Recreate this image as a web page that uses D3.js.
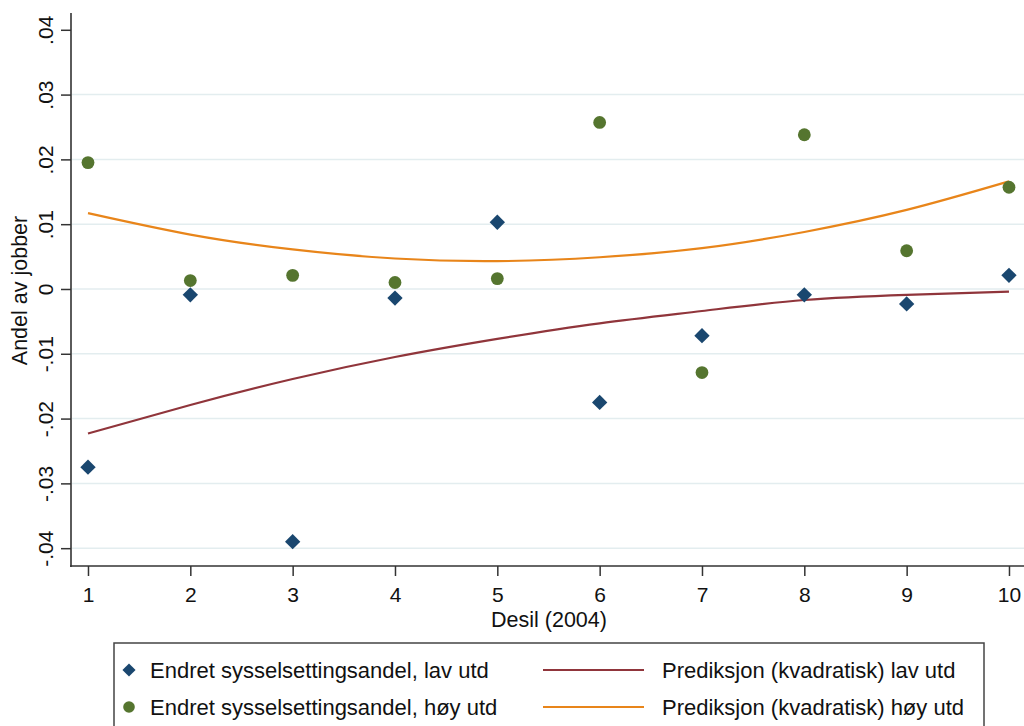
<!DOCTYPE html>
<html>
<head>
<meta charset="utf-8">
<script src="https://cdn.jsdelivr.net/npm/d3@7"></script>
<style>
  body { margin: 0; background: #fff; }
  svg { display: block; font-family: "Liberation Sans", Arial, sans-serif; }
</style>
</head>
<body>
<svg id="chart" width="1024" height="726"></svg>
<script>
// deciles on the x axis
const deciles = [1, 2, 3, 4, 5, 6, 7, 8, 9, 10];
// change in employment share, low education (diamonds)
const lavUtd = [-0.0275, -0.0009, -0.0390, -0.0014, 0.0103, -0.0175, -0.0072, -0.0009, -0.0023, 0.0021];
// change in employment share, high education (circles)
const hoyUtd = [0.0195, 0.0013, 0.0021, 0.0010, 0.0016, 0.0257, -0.0129, 0.0238, 0.0059, 0.0157];
// quadratic prediction curves at each decile
const predLav = [-0.0223, -0.0179, -0.0139, -0.0105, -0.0077, -0.0053, -0.0034, -0.0017, -0.0009, -0.0004];
const predHoy = [0.0117, 0.0084, 0.0061, 0.0047, 0.0043, 0.0049, 0.0063, 0.0088, 0.0122, 0.0166];
const yTicks = [-0.04, -0.03, -0.02, -0.01, 0, 0.01, 0.02, 0.03, 0.04];
const gridTicks = [-0.04, -0.03, -0.02, -0.01, 0, 0.01, 0.02, 0.03];
const legendItems = [
  {label: 'Endret sysselsettingsandel, lav utd', kind: 'diamond'},
  {label: 'Prediksjon (kvadratisk) lav utd', kind: 'lineLav'},
  {label: 'Endret sysselsettingsandel, høy utd', kind: 'circle'},
  {label: 'Prediksjon (kvadratisk) høy utd', kind: 'lineHoy'}
];

const colors = {
  lav: '#1a476f',
  hoy: '#55752f',
  lineLav: '#90353b',
  lineHoy: '#e8851a',
  grid: '#e3edef',
  axis: '#333'
};

const svg = d3.select('#chart');
const plotLeft = 71, plotRight = 1024, plotTop = 13, plotBottom = 566;

const x = d3.scaleLinear().domain([0.834, 10.137]).range([plotLeft, 1023]);
const y = d3.scaleLinear().domain([-0.04275, 0.04259]).range([plotBottom, plotTop]);

const fmt = d => {
  if (d === 0) return '0';
  let s = Math.abs(d).toFixed(2).replace(/^0/, '');
  return (d < 0 ? '-' : '') + s;
};

// gridlines
svg.append('g')
    .selectAll('line')
    .data(gridTicks)
    .join('line')
    .attr('x1', plotLeft + 1)
    .attr('x2', plotRight)
    .attr('y1', d => y(d))
    .attr('y2', d => y(d))
    .attr('stroke', colors.grid)
    .attr('stroke-width', 1.5);

// y axis
const yAxis = svg.append('g')
    .attr('transform', `translate(${plotLeft},0)`)
    .call(d3.axisLeft(y).tickValues(yTicks).tickSize(10).tickFormat(fmt));
yAxis.select('.domain').remove();
yAxis.append('line')
    .attr('y1', plotTop).attr('y2', plotBottom + 1)
    .attr('stroke', colors.axis).attr('stroke-width', 1.6);
yAxis.selectAll('.tick line').attr('stroke', colors.axis).attr('stroke-width', 1.5);
yAxis.selectAll('.tick text')
    .attr('x', null).attr('dy', null)
    .attr('transform', 'translate(-18,0) rotate(-90)')
    .attr('text-anchor', 'middle')
    .attr('fill', '#111')
    .style('font-size', '21px');

// x axis
const xAxis = svg.append('g')
    .attr('transform', `translate(0,${plotBottom})`)
    .call(d3.axisBottom(x).tickValues(deciles).tickSize(10).tickFormat(d3.format('d')));
xAxis.select('.domain').remove();
xAxis.append('line')
    .attr('x1', plotLeft - 1).attr('x2', plotRight)
    .attr('stroke', colors.axis).attr('stroke-width', 1.6);
xAxis.selectAll('.tick line').attr('stroke', colors.axis).attr('stroke-width', 1.5);
xAxis.selectAll('.tick text')
    .attr('y', 36).attr('dy', null)
    .attr('fill', '#111')
    .style('font-size', '21px');

// axis titles
svg.append('text')
    .attr('transform', `translate(27,${(plotTop + plotBottom) / 2 + 1}) rotate(-90)`)
    .attr('text-anchor', 'middle')
    .style('font-size', '21.5px')
    .attr('fill', '#111')
    .text('Andel av jobber');

svg.append('text')
    .attr('x', 549)
    .attr('y', 627)
    .attr('text-anchor', 'middle')
    .style('font-size', '21.5px')
    .attr('fill', '#111')
    .text('Desil (2004)');

// prediction lines
const line = d3.line()
    .x((d, i) => x(deciles[i]))
    .y(d => y(d))
    .curve(d3.curveNatural);

svg.append('path')
    .datum(predLav)
    .attr('d', line)
    .attr('fill', 'none')
    .attr('stroke', colors.lineLav)
    .attr('stroke-width', 2.2);

svg.append('path')
    .datum(predHoy)
    .attr('d', line)
    .attr('fill', 'none')
    .attr('stroke', colors.lineHoy)
    .attr('stroke-width', 2.2);

// markers
const diamond = d3.symbol().type(d3.symbolDiamond2).size(150);

svg.append('g')
    .selectAll('path')
    .data(lavUtd)
    .join('path')
    .attr('transform', (d, i) => `translate(${x(deciles[i])},${y(d)})`)
    .attr('d', diamond)
    .attr('fill', colors.lav);

svg.append('g')
    .selectAll('circle')
    .data(hoyUtd)
    .join('circle')
    .attr('cx', (d, i) => x(deciles[i]))
    .attr('cy', d => y(d))
    .attr('r', 6.4)
    .attr('fill', colors.hoy);

// legend
const legend = svg.append('g');
legend.append('rect')
    .attr('x', 114).attr('y', 643)
    .attr('width', 870).attr('height', 110)
    .attr('fill', '#fff')
    .attr('stroke', '#444')
    .attr('stroke-width', 1.5);

const rowY = [670, 707];
legendItems.forEach((item, i) => {
  const col = i % 2, row = Math.floor(i / 2);
  const cy = rowY[row];
  const g = legend.append('g');
  if (col === 0) {
    if (item.kind === 'diamond') {
      g.append('path')
          .attr('transform', `translate(129,${cy})`)
          .attr('d', d3.symbol().type(d3.symbolDiamond2).size(110))
          .attr('fill', colors.lav);
    } else {
      g.append('circle')
          .attr('cx', 129).attr('cy', cy).attr('r', 5.8)
          .attr('fill', colors.hoy);
    }
    g.append('text')
        .attr('x', 150).attr('y', cy + 8)
        .style('font-size', '22px')
        .attr('fill', '#111')
        .text(item.label);
  } else {
    g.append('line')
        .attr('x1', 543).attr('x2', 644)
        .attr('y1', cy).attr('y2', cy)
        .attr('stroke', item.kind === 'lineLav' ? colors.lineLav : colors.lineHoy)
        .attr('stroke-width', 2.2);
    g.append('text')
        .attr('x', 662).attr('y', cy + 8)
        .style('font-size', '22px')
        .attr('fill', '#111')
        .text(item.label);
  }
});
</script>
</body>
</html>
